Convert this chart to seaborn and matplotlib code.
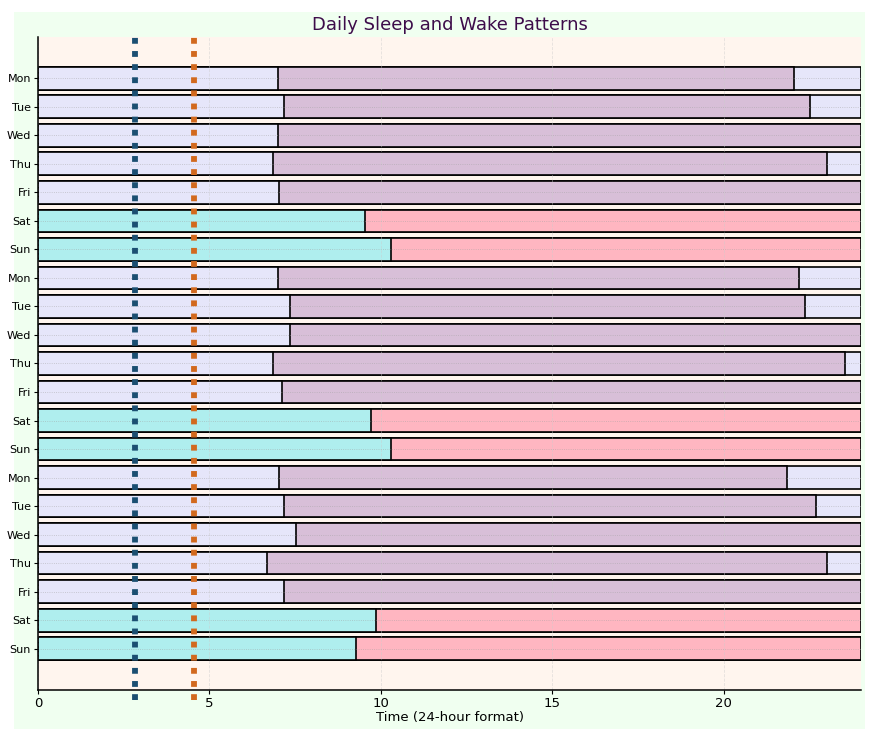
import pandas as pd
import matplotlib
matplotlib.use("Agg")
import matplotlib.pyplot as plt
import seaborn as sns
from matplotlib.patches import Rectangle

# data (hours, 24h clock)
days = ["Mon", "Tue", "Wed", "Thu", "Fri", "Sat", "Sun"] * 3
wake_times = [7.0, 7.17, 7.0, 6.85, 7.02, 9.52, 10.28,
              7.0, 7.35, 7.35, 6.85, 7.1, 9.7, 10.28,
              7.02, 7.17, 7.53, 6.68, 7.17, 9.85, 9.27]
# 24 = went to bed after midnight (bar runs to the edge)
bed_times = [22.03, 22.52, 24, 23.02, 24, 24, 24,
             22.18, 22.35, 24, 23.53, 24, 24, 24,
             21.85, 22.68, 24, 23.02, 24, 24, 24]
marker_lines = [2.83, 4.55]
marker_colors = ["#1b4f72", "#d2691e"]

df = pd.DataFrame({"row": [str(i) for i in range(len(days))],
                   "day": days, "wake": wake_times, "bed": bed_times})
df["kind"] = ["weekend" if d in ("Sat", "Sun") else "weekday" for d in df["day"]]
df["full"] = 24.0

sleep_pal = {"weekday": "#e6e6fa", "weekend": "#afeeee"}
awake_pal = {"weekday": "#d8bfd8", "weekend": "#ffb6c1"}

sns.set_style("ticks", {"axes.edgecolor": "black", "xtick.color": "black",
                        "ytick.color": "black", "text.color": "black",
                        "axes.labelcolor": "black"})
fig = plt.figure(figsize=(8.76, 7.37), dpi=100, facecolor="white")
fig.patches.append(Rectangle((0.016, 0.011), 0.972, 0.973, transform=fig.transFigure,
                             facecolor="#f0fff0", edgecolor="none", zorder=-10))
ax = fig.add_axes([0.0434, 0.0638, 0.9396, 0.886])
ax.set_facecolor("#fff5ee")

# layered bars: night after bedtime, awake time, then sleep up to waking
for col, pal in [("full", sleep_pal), ("bed", awake_pal), ("wake", sleep_pal)]:
    sns.barplot(data=df, x=col, y="row", hue="kind", palette=pal, orient="h",
                dodge=False, width=0.8, saturation=1, edgecolor="black",
                linewidth=1.2, legend=False, ax=ax)

for x, c in zip(marker_lines, marker_colors):
    ax.axvline(x, ymin=-0.015, ymax=1, color=c, linestyle=(0, (1, 1.25)),
               linewidth=4.2, clip_on=False, zorder=5)

ax.set_axisbelow(False)
ax.grid(axis="x", color="#cccccc", linestyle="--", linewidth=0.6, alpha=0.5)
ax.grid(axis="y", color="#a0a0a0", linestyle=":", linewidth=0.6, alpha=0.6)
for s in ax.spines.values():
    s.set_zorder(6)
    s.set_linewidth(1.1)

ax.set_yticks(range(len(days)))
ax.set_yticklabels(days, fontsize=8)
ax.set_ylim(len(days) - 1 + 1.45, -1.45)
ax.set_xlim(0, 24)
ax.set_xticks([0, 5, 10, 15, 20])
ax.tick_params(axis="x", labelsize=9.5, length=3, pad=2)
ax.tick_params(axis="y", length=3, pad=2)
ax.set_ylabel("")
ax.set_xlabel("Time (24-hour format)", fontsize=9.5, labelpad=1)
ax.set_title("Daily Sleep and Wake Patterns", fontsize=13, color="#3d0c4a", pad=5)
sns.despine(ax=ax)

fig.savefig("out.png", dpi=100, facecolor=fig.get_facecolor())
